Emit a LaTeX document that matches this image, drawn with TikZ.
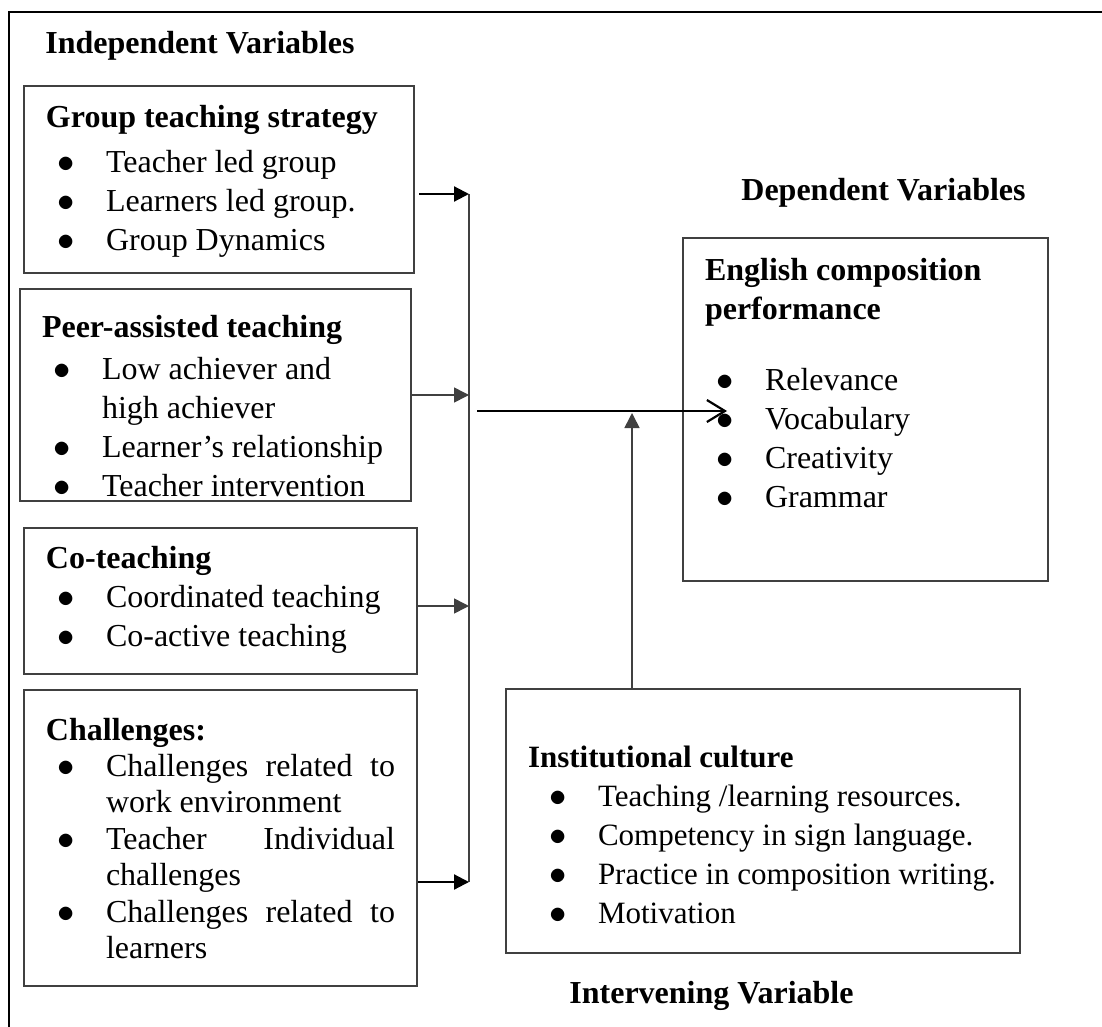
\documentclass[tikz,border=0pt]{standalone}
\usepackage{fontspec}
\setmainfont{Liberation Serif}
\usetikzlibrary{calc,arrows.meta}
\definecolor{boxgray}{RGB}{64,64,64}
\newcommand\hd[2]{\noindent\rule{0pt}{#1}\textbf{#2}\par}
\newcommand\bitem[2][10pt]{\noindent\hangindent=\dimexpr#1+20pt\relax\hangafter=1\hspace*{#1}\makebox[0pt]{\fontsize{16}{19.5}\selectfont$\bullet$}\hspace*{20pt}#2\par}

\begin{document}
\begin{tikzpicture}[x=0.5pt,y=-0.5pt,
    var/.style={draw=boxgray,line width=1pt,inner xsep=11pt,inner ysep=0pt,anchor=north west,font={\fontsize{16}{19.5}\selectfont}},
    title/.style={anchor=base west,inner sep=0pt,font={\fontsize{16}{19.5}\selectfont\bfseries}},
    feed/.style={draw=boxgray,line width=0.8pt,-{Triangle[length=7.5pt,width=7.5pt]}},
    bold feed/.style={draw=black,line width=1.1pt,-{Triangle[length=7.5pt,width=7.5pt]}},
    main/.style={draw=black,line width=1.1pt,-{Straight Barb[length=9pt,width=11pt]}}]
            \useasboundingbox (0,0) rectangle (1102,1027);
            \draw[line width=1pt] (1102,12) -- (9,12) -- (9,1027);

            \node[title] (indep) at (45,54) {Independent Variables};
            \node[title] (deptitle) at (741,201) {Dependent Variables};
            \node[title] (intv) at (569,1003) {Intervening Variable};

            \node[var] (grp) at (23,85) {\parbox[t][93.5pt][t]{173pt}{
                \hd{21pt}{Group teaching strategy}
                \vspace{3pt}
                \bitem{Teacher led group}
                \bitem{Learners led group.}
                \bitem{Group Dynamics}
            }};

            \node[var] (peer) at (19,288) {\parbox[t][106pt][t]{173.5pt}{
                \hd{24pt}{Peer-assisted teaching}
                \vspace{1.5pt}
                \bitem{Low achiever and\newline high achiever}
                \bitem{Learner's relationship}
                \bitem{Teacher intervention}
            }};

            \node[var] (coteach) at (23,527) {\parbox[t][73pt][t]{174.5pt}{
                \hd{20pt}{Co-teaching}
                \bitem{Coordinated teaching}
                \bitem{Co-active teaching}
            }};

            \node[var,font={\fontsize{16}{18.2}\selectfont}] (chal) at (23,689) {\parbox[t][148pt][t]{174.5pt}{
                \hd{25pt}{Challenges:}
                \bitem{Challenges\hfill related\hfill to\newline work environment}
                \bitem{Teacher\hfill Individual\newline challenges}
                \bitem{Challenges\hfill related\hfill to\newline learners}
            }};

            \node[var] (dep) at (682,237) {\parbox[t][171.5pt][t]{160.5pt}{
                \hd{21pt}{English composition\newline performance}
                \vspace{16pt}
                \bitem{Relevance}
                \bitem{Vocabulary}
                \bitem{Creativity}
                \bitem{Grammar}
            }};

            \node[var,font={\fontsize{15.5}{19.5}\selectfont}] (inst) at (505,688) {\parbox[t][132pt][t]{235pt}{
                \hd{39pt}{Institutional culture}
                \bitem[15pt]{Teaching /learning resources.}
                \bitem[15pt]{Competency in sign language.}
                \bitem[15pt]{\mbox{Practice in composition writing.}}
                \bitem[15pt]{Motivation}
            }};

            \coordinate (bus1) at (469,194);
            \coordinate (bus3) at (469,606);
            \coordinate (bus4) at (469,882);
            \coordinate (mainstart) at (477,411);
            \coordinate (mainend) at (727,411);
            \coordinate (join) at (632,413);

            \draw[boxgray,line width=0.9pt] (bus1) -- (bus4);
            \draw[bold feed] ([xshift=2pt]grp.east |- bus1) -- (bus1);
            \draw[feed] (peer.east) -- (peer.east -| bus1);
            \draw[feed] (coteach.east |- bus3) -- (bus3);
            \draw[bold feed] (chal.east |- bus4) -- (bus4);
            \draw[main] (mainstart) -- (mainend);
            \draw[feed] (inst.north -| join) -- (join);
        \end{tikzpicture}
\end{document}
